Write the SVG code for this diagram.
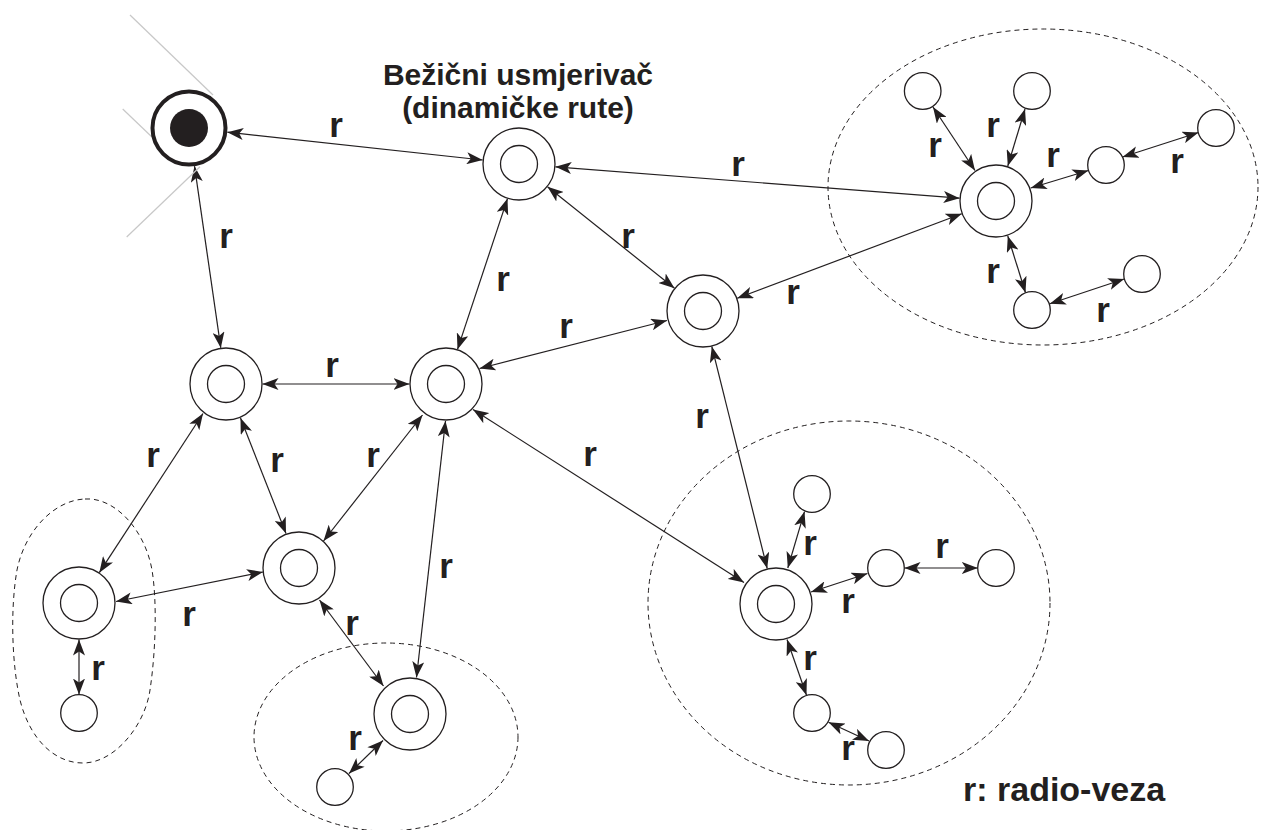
<svg xmlns="http://www.w3.org/2000/svg" width="1261" height="830" viewBox="0 0 1261 830">
<style>
.bg{fill:#fff}
.n{fill:#fff;stroke:#231f20;stroke-width:1.3}
.c line{stroke:#231f20;stroke-width:1.2;marker-start:url(#a);marker-end:url(#a)}
.d{fill:none;stroke:#231f20;stroke-width:1;stroke-dasharray:5 4}
.g{stroke:#c8c8c8;stroke-width:1.2}
.lb{font-family:"Liberation Sans",Arial,sans-serif;font-weight:bold;font-size:35px;fill:#231f20;text-anchor:middle}
.t{font-family:"Liberation Sans",Arial,sans-serif;font-weight:bold;font-size:30px;fill:#231f20;text-anchor:middle}
.lg{font-family:"Liberation Sans",Arial,sans-serif;font-weight:bold;font-size:34px;fill:#231f20}
</style>
<defs>
<marker id="a" viewBox="0 0 16 12" refX="16" refY="6" markerWidth="16" markerHeight="12" markerUnits="userSpaceOnUse" orient="auto-start-reverse">
<path d="M0,0 L16,6 L0,12 L4,6 Z" fill="#231f20"/>
</marker>
</defs>
<rect class="bg" x="0" y="0" width="1261" height="830"/>

<g id="clusters">
<ellipse class="d" cx="1043" cy="187" rx="215" ry="158"/>
<ellipse class="d" cx="849" cy="603" rx="201" ry="182"/>
<ellipse class="d" cx="386" cy="737" rx="132" ry="94"/>
<path class="d" d="M85,499 C115,497 145,530 152,570 C157,600 156,650 150,690 C145,725 115,763 83,763 C55,763 30,740 20,700 C12,665 10,610 17,570 C25,530 55,500 85,499 Z"/>
</g>

<g id="connectors" class="c">
<line x1="227.3" y1="132.2" x2="482.7" y2="160"/>
<line x1="194.5" y1="166.1" x2="220.8" y2="347.9"/>
<line x1="555.4" y1="166.8" x2="959.6" y2="198.2"/>
<line x1="547.5" y1="186.8" x2="674.5" y2="288.2"/>
<line x1="507.5" y1="198.6" x2="457.5" y2="349.4"/>
<line x1="737.2" y1="298.2" x2="961.8" y2="213.8"/>
<line x1="667" y1="320.5" x2="479.5" y2="368.5"/>
<line x1="711.8" y1="346.4" x2="767.2" y2="568.6"/>
<line x1="262.5" y1="384" x2="409.5" y2="384"/>
<line x1="203" y1="413.5" x2="99.3" y2="572.7"/>
<line x1="240.5" y1="418" x2="286" y2="533.5"/>
<line x1="422.5" y1="415" x2="323.5" y2="541"/>
<line x1="445.5" y1="421" x2="416.5" y2="677.5"/>
<line x1="473" y1="409.5" x2="744" y2="582.5"/>
<line x1="263" y1="572" x2="116" y2="601.5"/>
<line x1="319.5" y1="600" x2="383.5" y2="686"/>
<line x1="79" y1="639.5" x2="79" y2="694.5"/>
<line x1="383" y1="740.5" x2="349" y2="773.5"/>
<line x1="975" y1="170.5" x2="933" y2="107"/>
<line x1="1007.8" y1="166" x2="1025" y2="109"/>
<line x1="1030.7" y1="188" x2="1088.4" y2="170.5"/>
<line x1="1122.5" y1="157" x2="1198.5" y2="132.5"/>
<line x1="1007.8" y1="236" x2="1025.5" y2="292.8"/>
<line x1="1049.8" y1="303.8" x2="1124.2" y2="279"/>
<line x1="787.8" y1="568" x2="804.5" y2="511.6"/>
<line x1="811" y1="592" x2="867.5" y2="573.5"/>
<line x1="904.5" y1="568" x2="977.8" y2="568"/>
<line x1="787" y1="639.5" x2="806.5" y2="695.2"/>
<line x1="828.5" y1="722.3" x2="869" y2="741"/>
</g>

<g id="gateway">
<line class="g" x1="130" y1="15" x2="213" y2="95"/>
<line class="g" x1="122.7" y1="109" x2="151.7" y2="136.7"/>
<line class="g" x1="126.7" y1="237" x2="200" y2="166.7"/>
<circle cx="189" cy="128" r="36.5" fill="#fff" stroke="#231f20" stroke-width="4"/>
<circle cx="189" cy="128" r="19" fill="#231f20"/>
</g>

<g id="router-top">
<circle class="n" cx="519" cy="164" r="36"/><circle class="n" cx="519" cy="164" r="18.5"/>
<text class="t" x="518" y="85">Bežični usmjerivač</text>
<text class="t" x="518" y="118">(dinamičke rute)</text>
</g>
<g id="router-r2"><circle class="n" cx="703" cy="311" r="36"/><circle class="n" cx="703" cy="311" r="18.5"/></g>
<g id="router-tr"><circle class="n" cx="996" cy="201" r="36"/><circle class="n" cx="996" cy="201" r="18.5"/></g>
<g id="router-r3"><circle class="n" cx="226" cy="384" r="36"/><circle class="n" cx="226" cy="384" r="18.5"/></g>
<g id="router-r4"><circle class="n" cx="446" cy="384" r="36"/><circle class="n" cx="446" cy="384" r="18.5"/></g>
<g id="router-r5"><circle class="n" cx="299" cy="568" r="36"/><circle class="n" cx="299" cy="568" r="18.5"/></g>
<g id="router-r6"><circle class="n" cx="79" cy="603" r="36"/><circle class="n" cx="79" cy="603" r="18.5"/></g>
<g id="router-r7"><circle class="n" cx="410" cy="714" r="36"/><circle class="n" cx="410" cy="714" r="18.5"/></g>
<g id="router-r8"><circle class="n" cx="776" cy="604" r="36"/><circle class="n" cx="776" cy="604" r="18.5"/></g>

<g id="host-s1"><circle class="n" cx="922.7" cy="91" r="18.3"/></g>
<g id="host-s2"><circle class="n" cx="1032" cy="91" r="18.3"/></g>
<g id="host-s3"><circle class="n" cx="1106" cy="165" r="18.3"/></g>
<g id="host-s4"><circle class="n" cx="1216" cy="128" r="18.3"/></g>
<g id="host-s5"><circle class="n" cx="1142" cy="274" r="18.3"/></g>
<g id="host-s6"><circle class="n" cx="1032" cy="310" r="18.3"/></g>
<g id="host-s7"><circle class="n" cx="812" cy="494" r="18.3"/></g>
<g id="host-s8"><circle class="n" cx="886" cy="568" r="18.3"/></g>
<g id="host-s9"><circle class="n" cx="996" cy="568" r="18.3"/></g>
<g id="host-s10"><circle class="n" cx="812" cy="713" r="18.3"/></g>
<g id="host-s11"><circle class="n" cx="886" cy="750" r="18.3"/></g>
<g id="host-s12"><circle class="n" cx="79" cy="713" r="18.3"/></g>
<g id="host-s13"><circle class="n" cx="335" cy="787" r="18.3"/></g>

<g id="labels">
<text class="lb" x="336" y="137">r</text>
<text class="lb" x="226" y="248">r</text>
<text class="lb" x="738" y="176">r</text>
<text class="lb" x="628" y="248">r</text>
<text class="lb" x="503" y="291">r</text>
<text class="lb" x="793" y="304">r</text>
<text class="lb" x="566" y="338">r</text>
<text class="lb" x="702" y="428">r</text>
<text class="lb" x="332" y="377">r</text>
<text class="lb" x="153" y="467">r</text>
<text class="lb" x="277" y="472">r</text>
<text class="lb" x="373" y="467">r</text>
<text class="lb" x="446" y="578">r</text>
<text class="lb" x="590" y="466">r</text>
<text class="lb" x="189" y="626">r</text>
<text class="lb" x="352" y="635">r</text>
<text class="lb" x="98" y="680">r</text>
<text class="lb" x="355" y="750">r</text>
<text class="lb" x="935" y="157">r</text>
<text class="lb" x="993" y="137">r</text>
<text class="lb" x="1053" y="167">r</text>
<text class="lb" x="1177" y="173">r</text>
<text class="lb" x="993" y="283">r</text>
<text class="lb" x="1103" y="322">r</text>
<text class="lb" x="810" y="555">r</text>
<text class="lb" x="848" y="613">r</text>
<text class="lb" x="942" y="558">r</text>
<text class="lb" x="810" y="670">r</text>
<text class="lb" x="848" y="760">r</text>
<text class="lg" x="963" y="801">r: radio-veza</text>
</g>
</svg>
